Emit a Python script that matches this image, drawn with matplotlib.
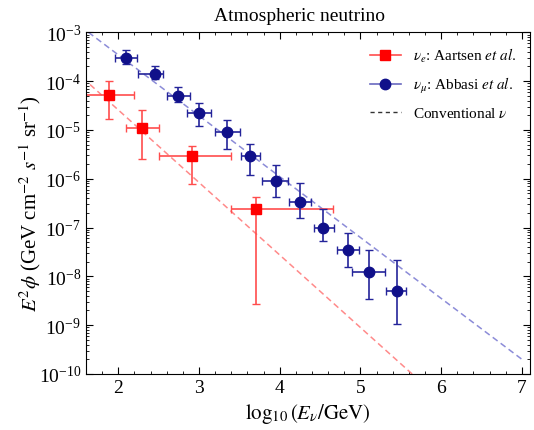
import numpy as np
import matplotlib.pyplot as plt
from matplotlib.lines import Line2D
from matplotlib.ticker import MultipleLocator, LogLocator, NullFormatter

plt.rcParams['font.family'] = ['Liberation Serif', 'DejaVu Serif']
plt.rcParams['mathtext.fontset'] = 'stix'

# nu_e : Aartsen et al.
e_x = [1.89, 2.29, 2.91, 3.70]
e_xlo = [1.55, 2.10, 2.50, 3.40]
e_xhi = [2.20, 2.50, 3.40, 4.66]
e_y = [5.1e-5, 1.1e-5, 2.95e-6, 2.35e-7]
e_ylo = [1.7e-5, 2.5e-6, 7.9e-7, 2.7e-9]
e_yhi = [1.0e-4, 2.6e-5, 4.6e-6, 4.2e-7]

# nu_mu : Abbasi et al.
m_x = [2.10, 2.45, 2.74, 3.00, 3.35, 3.63, 3.95, 4.25, 4.54, 4.85, 5.10, 5.45]
m_xlo = [1.96, 2.25, 2.60, 2.85, 3.20, 3.52, 3.78, 4.11, 4.42, 4.71, 4.90, 5.32]
m_xhi = [2.23, 2.56, 2.89, 3.15, 3.51, 3.75, 4.10, 4.39, 4.67, 4.98, 5.31, 5.57]
m_y = [2.93e-4, 1.4e-4, 4.9e-5, 2.2e-5, 8.9e-6, 2.9e-6, 9.2e-7, 3.3e-7, 1.0e-7, 3.5e-8, 1.23e-8, 4.9e-9]
m_ylo = [2.2e-4, 1.1e-4, 3.7e-5, 1.2e-5, 4.0e-6, 1.2e-6, 4.3e-7, 1.6e-7, 5.2e-8, 1.55e-8, 3.5e-9, 1.07e-9]
m_yhi = [4.4e-4, 2.0e-4, 7.6e-5, 3.5e-5, 1.6e-5, 5.1e-6, 1.9e-6, 8.3e-7, 2.4e-7, 7.9e-8, 3.5e-8, 2.2e-8]

# conventional atmospheric flux lines (log10 E, log10 E^2 phi)
conv_e_x = [1.65, 5.64]
conv_e_logy = [-4.07, -10.0]
conv_mu_x = [1.63, 7.0]
conv_mu_logy = [-3.0, -9.70]

red = '#ff0000'
navy = '#10108a'
dash = (0, (4, 2.5))

fig = plt.figure(figsize=(5.34, 4.31), dpi=100)
ax = fig.add_axes([0.161, 0.130, 0.8315, 0.7927])

ax.plot(conv_e_x, 10 ** np.array(conv_e_logy), ls=dash, color='#ff8a8a', lw=1.1)
ax.plot(conv_mu_x, 10 ** np.array(conv_mu_logy), ls=dash, color='#8c8cd8', lw=1.1)

def errs(c, lo, hi):
    c = np.array(c)
    return [c - np.array(lo), np.array(hi) - c]

ax.errorbar(e_x, e_y, xerr=errs(e_x, e_xlo, e_xhi), yerr=errs(e_y, e_ylo, e_yhi),
            fmt='s', color=red, ecolor='#ff4d4d', ms=7.5, elinewidth=1.2, capsize=3, capthick=1.0)
ax.errorbar(m_x, m_y, xerr=errs(m_x, m_xlo, m_xhi), yerr=errs(m_y, m_ylo, m_yhi),
            fmt='o', color=navy, ecolor='#24249a', ms=7.5, elinewidth=1.2, capsize=3, capthick=1.0)

handles = [
    Line2D([], [], color='#ff4d4d', marker='s', mfc=red, mec=red, ms=7.5, lw=1.2),
    Line2D([], [], color='#6a6ac0', marker='o', mfc=navy, mec=navy, ms=7.5, lw=1.2),
    Line2D([], [], color='#333333', ls=(0, (3, 2.5)), lw=1.0),
]
labels = [r'$\nu_e$: Aartsen $\it{et\ al.}$',
          r'$\nu_\mu$: Abbasi $\it{et\ al.}$',
          r'Conventional $\nu$']

ax.set_yscale('log')
ax.set_xlim(1.6, 7.1)
ax.set_ylim(1e-10, 1e-3)
ax.xaxis.set_major_locator(MultipleLocator(1))
ax.xaxis.set_minor_locator(MultipleLocator(0.2))
ax.yaxis.set_major_locator(LogLocator(base=10, numticks=20))
ax.yaxis.set_minor_locator(LogLocator(base=10, subs=np.arange(2, 10), numticks=20))
ax.yaxis.set_minor_formatter(NullFormatter())
ax.tick_params(which='both', direction='in', top=True, right=True, labelsize=14)
ax.tick_params(which='major', length=5)
ax.tick_params(which='minor', length=2.5)

ax.set_title('Atmospheric neutrino', fontsize=14, pad=9, x=0.48)
ax.set_xlabel(r'$\log_{10}(E_\nu/\mathrm{GeV})$', fontsize=15, labelpad=4)
ax.set_ylabel(r'$E^2\phi$ (GeV cm$^{-2}$ $s^{-1}$ sr$^{-1}$)', fontsize=15, labelpad=-3)

ax.legend(handles, labels, loc='upper right', frameon=False, fontsize=11, handlelength=2.0,
          labelspacing=0.72, borderaxespad=0.5, bbox_to_anchor=(1.0, 1.0))

fig.savefig('out.png', dpi=100)
